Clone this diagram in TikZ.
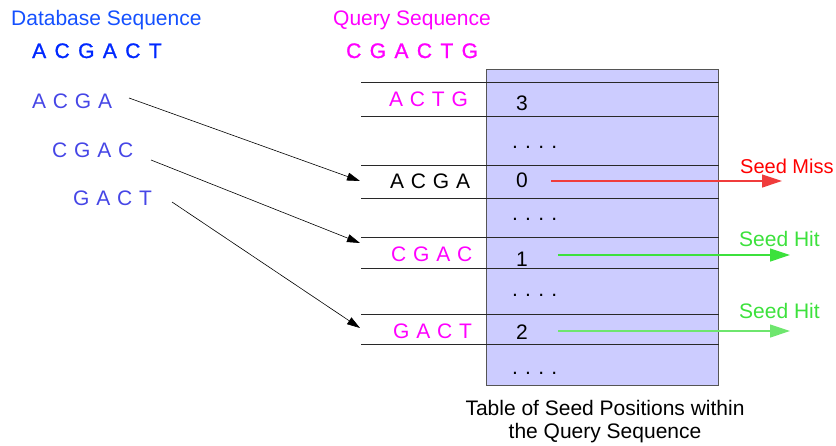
\documentclass[tikz,border=0pt]{standalone}
\usepackage{fontspec}
\setmainfont{Liberation Sans}
\newfontfamily\seqheavy[FakeBold=1.2]{Liberation Sans}
\usetikzlibrary{arrows.meta}

% letter gaps for the spelled-out sequences
\newcommand\gapS{\hspace{6.8pt}}
\newcommand\gapL{\hspace{8.4pt}}
\newcommand\dotrow{.\hspace{7.2pt}.\hspace{7.2pt}.\hspace{7.2pt}.}

\definecolor{dbtitle}{RGB}{20,80,255}
\definecolor{dbseq}{RGB}{0,40,255}
\definecolor{dbsub}{RGB}{70,70,230}
\definecolor{qmag}{RGB}{255,0,255}
\definecolor{tabfill}{RGB}{204,204,255}
\definecolor{tabedge}{RGB}{85,85,85}
\definecolor{rowline}{RGB}{40,40,40}
\definecolor{missred}{RGB}{255,0,0}
\definecolor{missline}{RGB}{240,60,60}
\definecolor{hitgreen}{RGB}{60,225,60}
\definecolor{hitpale}{RGB}{110,230,110}

\begin{document}
\begin{tikzpicture}[x=1pt,y=-1pt,
  txt/.style={inner sep=0pt, anchor=base west, font=\fontsize{21}{24}\selectfont},
  caption/.style={inner sep=0pt, anchor=base, font=\fontsize{21}{24}\selectfont},
  lookup/.style={draw=black, line width=0.6pt, -{Triangle[length=13pt,width=8pt]}},
  seedarrow/.style={line width=1.2pt, -{Triangle[length=20pt,width=13pt]}},
  rowrule/.style={draw=rowline, line width=0.8pt}]

\useasboundingbox (0,0) rectangle (836,445);

% headings and database sequence
\node[txt, text=dbtitle] (dbhead) at (11,25) {Database Sequence};
\node[txt, text=dbseq, font=\fontsize{21}{24}\seqheavy] (dbfull) at (32,58)
  {A\gapL C\gapL G\gapL A\gapL C\gapL T};
\node[txt, text=dbsub] (w1) at (32,108) {A\gapS C\gapS G\gapS A};
\node[txt, text=dbsub] (w2) at (52,157) {C\gapS G\gapS A\gapS C};
\node[txt, text=dbsub] (w3) at (73,205) {G\gapS A\gapS C\gapS T};

\node[txt, text=qmag] (qhead) at (333,25) {Query Sequence};
\node[txt, text=qmag, font=\fontsize{21}{24}\seqheavy] (qfull) at (346,58)
  {C\gapL G\gapL A\gapL C\gapL T\gapL G};

% seed position table
\filldraw[fill=tabfill, draw=tabedge, line width=0.8pt] (486,69) rectangle (718,385);
\foreach \yy in {82,116,165,198,237,268,314,344}
  \draw[rowrule] (361,\yy) -- (719,\yy);

\node[txt, text=qmag] (k3) at (389,106) {A\gapS C\gapS T\gapS G};
\node[txt, text=black] (k0) at (390,188) {A\gapS C\gapS G\gapS A};
\node[txt, text=qmag] (k1) at (391,261) {C\gapS G\gapS A\gapS C};
\node[txt, text=qmag] (k2) at (393,338) {G\gapS A\gapS C\gapS T};

\node[txt] (p3) at (516,110) {3};
\node[txt] (d1) at (512,148) {\dotrow};
\node[txt] (p0) at (516,187) {0};
\node[txt] (d2) at (512,220) {\dotrow};
\node[txt] (p1) at (516,266) {1};
\node[txt] (d3) at (512,296) {\dotrow};
\node[txt] (p2) at (516,339) {2};
\node[txt] (d4) at (512,374) {\dotrow};

\node[caption] (cap1) at (605,415) {Table of Seed Positions within};
\node[caption] (cap2) at (605,438) {the Query Sequence};

% word lookups into the table
\coordinate (s1) at (129,98);
\coordinate (s2) at (151,160);
\coordinate (s3) at (172,202);
\coordinate (t1) at (360,181);
\coordinate (t2) at (360,243);
\coordinate (t3) at (360,328);
\draw[lookup] (s1) -- (t1);
\draw[lookup] (s2) -- (t2);
\draw[lookup] (s3) -- (t3);

% seed outcomes
\node[txt, text=missred, font=\fontsize{20}{24}\selectfont] (miss) at (740,173) {Seed Miss};
\node[txt, text=hitgreen] (hit1) at (739,246) {Seed Hit};
\node[txt, text=hitgreen] (hit2) at (739,318) {Seed Hit};

\coordinate (m0) at (551,181);
\coordinate (m1) at (782,181);
\coordinate (h0) at (558,255);
\coordinate (h1) at (790,255);
\coordinate (g0) at (558,331);
\coordinate (g1) at (790,331);
\draw[seedarrow, draw=missline, fill=missred] (m0) -- (m1);
\draw[seedarrow, draw=hitgreen, fill=hitgreen] (h0) -- (h1);
\draw[seedarrow, draw=hitpale, fill=hitgreen] (g0) -- (g1);
\end{tikzpicture}
\end{document}
